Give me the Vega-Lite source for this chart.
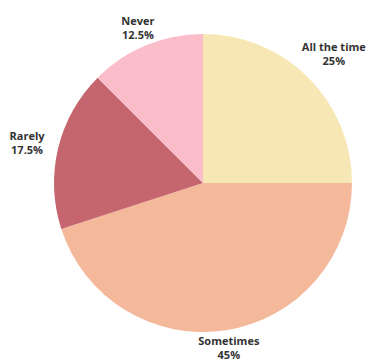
{
  "$schema": "https://vega.github.io/schema/vega-lite/v6.json",
  "width": 300,
  "height": 300,
  "autosize": {"type": "none"},
  "padding": {"left": 53, "top": 33, "right": 15, "bottom": 28},
  "background": "white",
  "view": {"stroke": null},
  "data": {"values": [
    {"category": "All the time", "pct": 25},
    {"category": "Sometimes", "pct": 45},
    {"category": "Rarely", "pct": 17.5},
    {"category": "Never", "pct": 12.5}
  ]},
  "transform": [
    {"calculate": "datum.category + '\\n' + datum.pct + '%'", "as": "label"},
    {"calculate": "indexof(['All the time','Sometimes','Rarely','Never'], datum.category)", "as": "idx"}
  ],
  "encoding": {
    "theta": {"field": "pct", "type": "quantitative", "stack": true},
    "order": {"field": "idx", "type": "quantitative", "sort": "ascending"},
    "color": {
      "field": "category", "type": "nominal",
      "scale": {"domain": ["All the time", "Sometimes", "Rarely", "Never"], "range": ["#F7E7B4", "#F4B89B", "#C5666F", "#FBBDC9"]},
      "legend": null
    }
  },
  "layer": [
    {"mark": {"type": "arc", "radius": 149}},
    {"mark": {"type": "text", "radius": 170, "dy": -4, "fontSize": 11, "fontWeight": "bold", "font": "Open Sans", "lineBreak": "\n", "lineHeight": 14, "align": "center", "baseline": "middle"},
     "encoding": {"text": {"condition": {"test": "datum.category === 'Never'", "field": "label"}, "value": ""}, "color": {"value": "#333333"}}},
    {"mark": {"type": "text", "radius": 165, "dy": -4, "fontSize": 11, "fontWeight": "bold", "font": "Open Sans", "lineBreak": "\n", "lineHeight": 14, "align": "center", "baseline": "middle"},
     "encoding": {"text": {"condition": {"test": "datum.category === 'Sometimes'", "field": "label"}, "value": ""}, "color": {"value": "#333333"}}},
    {"mark": {"type": "text", "radius": 181, "dy": -4, "fontSize": 11, "fontWeight": "bold", "font": "Open Sans", "lineBreak": "\n", "lineHeight": 14, "align": "center", "baseline": "middle"},
     "encoding": {"text": {"condition": {"test": "datum.category === 'Rarely'", "field": "label"}, "value": ""}, "color": {"value": "#333333"}}},
    {"mark": {"type": "text", "radius": 185, "dy": -4, "fontSize": 11, "fontWeight": "bold", "font": "Open Sans", "lineBreak": "\n", "lineHeight": 14, "align": "center", "baseline": "middle"},
     "encoding": {"text": {"condition": {"test": "datum.category === 'All the time'", "field": "label"}, "value": ""}, "color": {"value": "#333333"}}}
  ]
}
